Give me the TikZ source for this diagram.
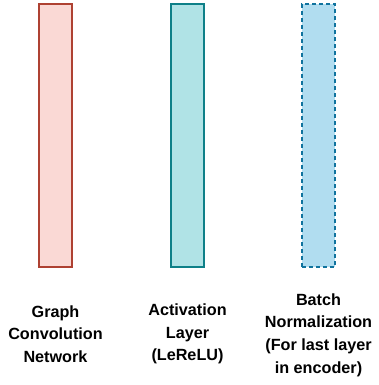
\documentclass[tikz,border=0pt]{standalone}
\usepackage{fontspec}
\setmainfont{Liberation Sans}
\usepackage{xcolor}
\usetikzlibrary{positioning}

\definecolor{gcnfill}{HTML}{FAD9D5}
\definecolor{gcnline}{HTML}{AE4132}
\definecolor{actfill}{HTML}{B0E3E6}
\definecolor{actline}{HTML}{0E8088}
\definecolor{bnfill}{HTML}{B1DDF0}
\definecolor{bnline}{HTML}{10739E}

\tikzset{
    layerbar/.style={draw, line width=1.3pt, minimum width=33pt, minimum height=263pt, inner sep=0pt},
    layerlabel/.style={align=center, font=\bfseries\fontsize{16.2}{22.7}\selectfont, inner sep=0pt}
}

\begin{document}
\begin{tikzpicture}[x=1pt, y=1pt]
    \useasboundingbox (0,0) rectangle (378,-385);

    % Layer bars
    \node[layerbar, fill=gcnfill, draw=gcnline] (gcn) at (55.5,-135.5) {};
    \node[layerbar, fill=actfill, draw=actline] (act) at (187.5,-135.5) {};
    \node[layerbar, fill=bnfill, draw=bnline, dash pattern=on 4pt off 3pt] (bn) at (318.5,-135.5) {};

    % Labels
    \node[layerlabel] (gcnlabel) at (55.5,-334) {Graph\\Convolution\\Network};
    \node[layerlabel] (actlabel) at (187.5,-334) {Activation\\Layer\\(LeReLU)};
    \node[layerlabel] (bnlabel) at (318.5,-335) {Batch\\Normalization\\(For last layer\\in encoder)};
\end{tikzpicture}
\end{document}
